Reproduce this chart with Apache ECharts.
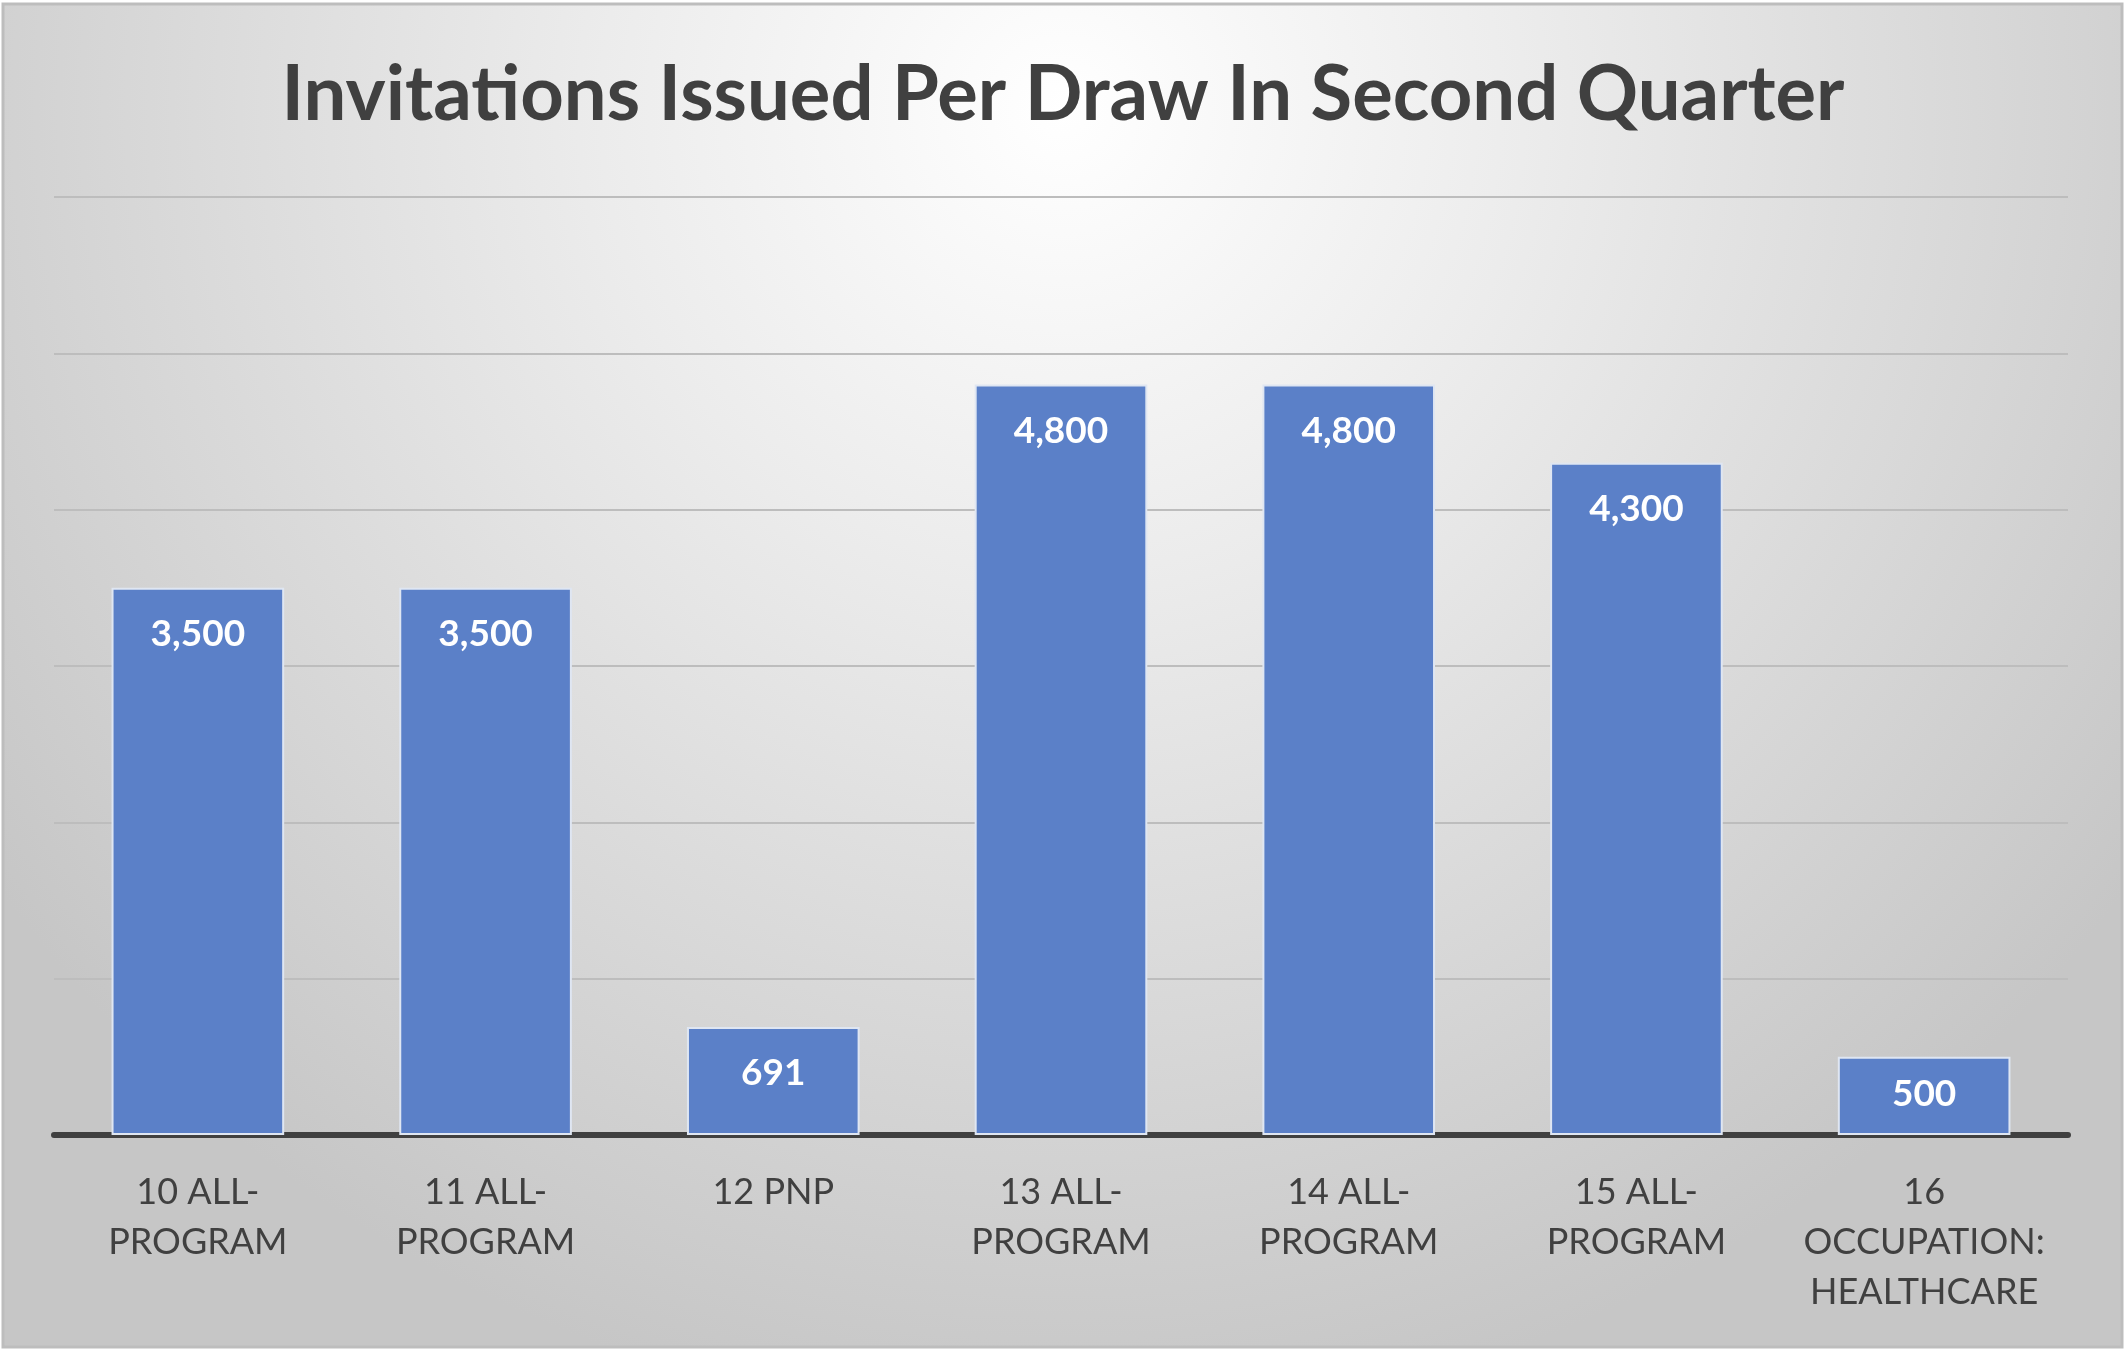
<!DOCTYPE html>
<html>
<head>
<meta charset="utf-8">
<script src="https://cdn.jsdelivr.net/npm/echarts@6/dist/echarts.min.js"></script>
<style>
html,body{margin:0;padding:0;background:#ffffff;}
#c{width:2126px;height:1352px;}
</style>
</head>
<body>
<div id="c"></div>
<script>
const titleText = 'Invitations Issued Per Draw In Second Quarter';
const categories = ['10 ALL-\nPROGRAM', '11 ALL-\nPROGRAM', '12 PNP', '13 ALL-\nPROGRAM', '14 ALL-\nPROGRAM', '15 ALL-\nPROGRAM', '16\nOCCUPATION:\nHEALTHCARE'];
const values = [3500, 3500, 691, 4800, 4800, 4300, 500];
const yMin = 0, yMax = 6000, yStep = 1000;

const chart = echarts.init(document.getElementById('c'), null, {renderer: 'canvas'});
const FONT = 'Lato, "Open Sans", "Noto Sans", sans-serif';
const barData = values.map((v, i) => i === 6 ? {value: v, label: {distance: 19}} : v);
chart.setOption({
  backgroundColor: 'transparent',
  animation: false,
  graphic: [{
    type: 'rect', z: -10, silent: true,
    shape: {x: 3, y: 4, width: 2119, height: 1343},
    style: {
      fill: {type: 'radial', x: 0.5, y: 0.08, r: 0.98, colorStops: [
        {offset: 0, color: '#ffffff'}, {offset: 0.35, color: '#ececec'}, {offset: 1, color: '#c6c6c6'}]},
      stroke: '#bdbdbd', lineWidth: 3
    }
  }],
  title: {
    text: titleText, left: 'center', top: 52,
    textStyle: {fontFamily: FONT, fontWeight: 'bold', fontSize: 76, color: '#404040'}
  },
  grid: {left: 54, right: 58, top: 197, bottom: 217, containLabel: false},
  xAxis: {
    type: 'category', data: categories,
    axisLine: {lineStyle: {color: '#404040', width: 6}},
    axisTick: {show: false},
    axisLabel: {fontFamily: FONT, fontSize: 36, color: '#404040', lineHeight: 50, margin: 32, interval: 0}
  },
  yAxis: {
    type: 'value', min: yMin, max: yMax, interval: yStep,
    axisLabel: {show: false}, axisLine: {show: false}, axisTick: {show: false},
    splitLine: {lineStyle: {color: '#bdbdbd', width: 2}}
  },
  series: [{
    type: 'bar', data: barData, barWidth: '60%',
    itemStyle: {color: '#5b80c8', borderColor: '#dfe6f2', borderWidth: 2},
    label: {
      show: true, position: 'insideTop', distance: 28,
      fontFamily: FONT, fontWeight: 'bold', fontSize: 37, color: '#ffffff',
      formatter: p => p.value.toLocaleString('en-US')
    }
  }]
});
</script>
</body>
</html>
